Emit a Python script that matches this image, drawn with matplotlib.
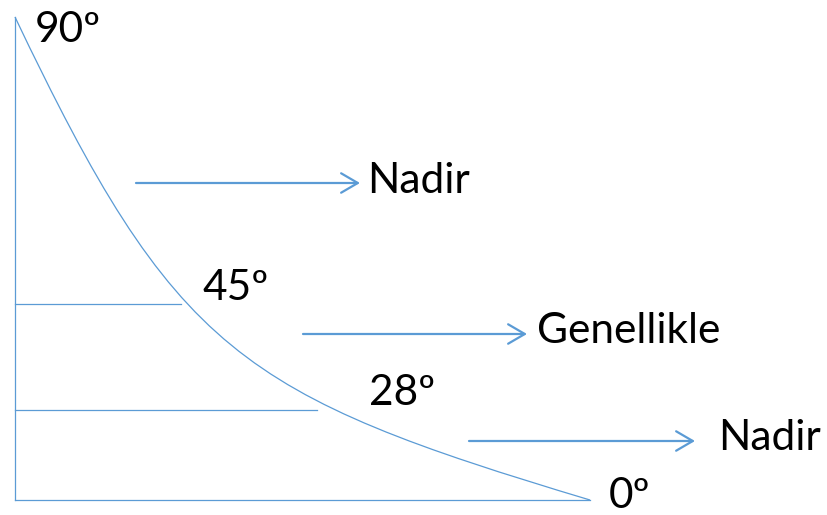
import matplotlib.pyplot as plt
from matplotlib.path import Path
from matplotlib.patches import PathPatch

# Eğri: kübik Bezier kontrol noktaları (piksel koordinatları, resimden kestirildi)
curve_x = [15, 175, 240, 590]
curve_y = [17, 353, 395, 500]

# Açı çizgileri (y, bitiş x)
level_y = [304, 410]
level_end = [181, 317]

# Oklar: (başlangıç x, bitiş x, y)
arrow_x0 = [136, 303, 469]
arrow_x1 = [360, 527, 695]
arrow_y = [183, 334, 441]

# Yazılar
angle_labels = ["90º", "45º", "28º", "0º"]
angle_pos = [(35, 42), (202, 300), (369, 405), (609, 508)]
arrow_labels = ["Nadir", "Genellikle", "Nadir"]
arrow_label_pos = [(367, 193), (537, 343), (718, 450)]

blue = "#5B9BD5"

fig = plt.figure(figsize=(8.28, 5.15), dpi=100)
ax = fig.add_axes([0, 0, 1, 1])
ax.set_xlim(0, 828)
ax.set_ylim(515, 0)
ax.axis("off")

# Eksenler
ax.plot([15, 15], [17, 500], color=blue, lw=0.9)
ax.plot([15, 590], [500, 500], color=blue, lw=0.9)

# Eğri
path = Path(list(zip(curve_x, curve_y)),
            [Path.MOVETO, Path.CURVE4, Path.CURVE4, Path.CURVE4])
ax.add_patch(PathPatch(path, facecolor="none", edgecolor=blue, lw=0.9))

# Yatay çizgiler
for y, xe in zip(level_y, level_end):
    ax.plot([15, xe], [y, y], color=blue, lw=0.9)

# Oklar
for x0, x1, y in zip(arrow_x0, arrow_x1, arrow_y):
    ax.annotate("", xy=(x1, y), xytext=(x0, y),
                arrowprops=dict(arrowstyle="->,head_length=1.2,head_width=0.7",
                                color=blue, lw=1.6, mutation_scale=10,
                                shrinkA=0, shrinkB=0))

for txt, (x, y) in zip(angle_labels, angle_pos):
    ax.text(x, y, txt, fontsize=30.5, family="Lato", ha="left", va="baseline")

for txt, (x, y) in zip(arrow_labels, arrow_label_pos):
    ax.text(x, y, txt, fontsize=30.5, family="Lato", ha="left", va="baseline")

fig.savefig("out.png", dpi=100)
